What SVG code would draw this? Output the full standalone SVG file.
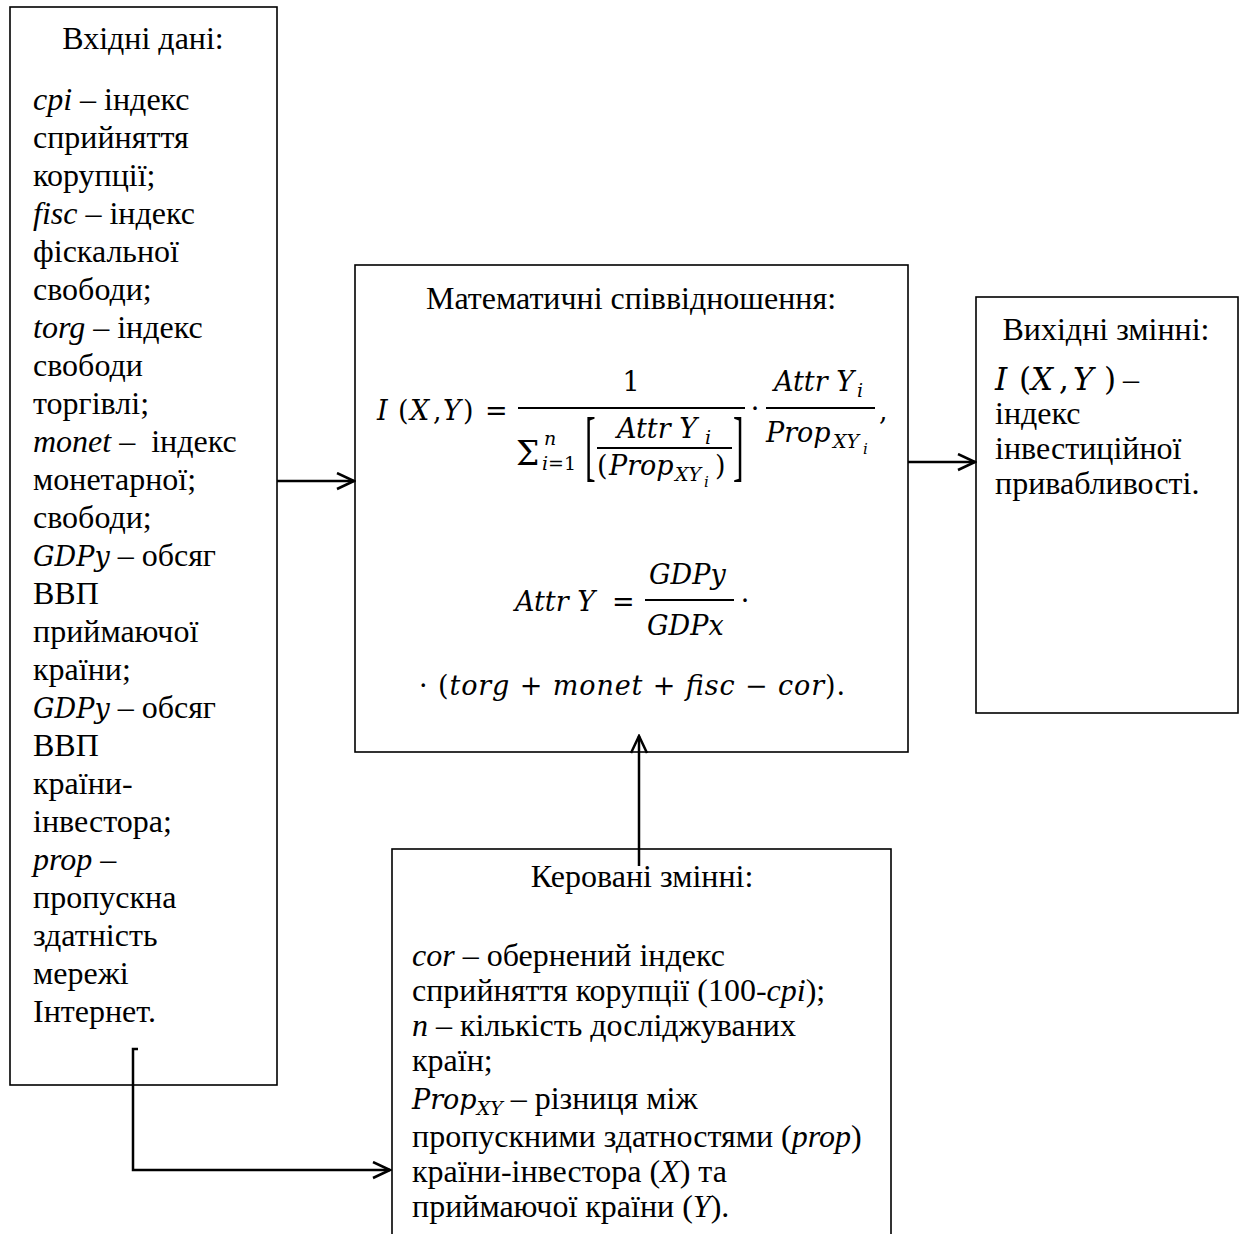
<svg xmlns="http://www.w3.org/2000/svg" width="1240" height="1234" viewBox="0 0 1240 1234">
  <style>
    .box { fill: #fff; stroke: #000; stroke-width: 1.6; }
    .link { fill: none; stroke: #000; stroke-width: 2.5; }
    .t { font-family: "Liberation Serif", "Times New Roman", serif; font-size: 32px; fill: #000; }
    .it { font-style: italic; }
    .m { font-family: "DejaVu Serif", serif; font-style: italic; font-size: 27px; fill: #000; }
    .mu { font-family: "DejaVu Serif", serif; font-style: normal; font-size: 27px; fill: #000; }
    .big { font-size: 31px; }
    .sig { font-size: 33px; }
    .sub { font-size: 19px; }
    .sub2 { font-size: 15px; }
    .bar { stroke: #000; stroke-width: 1.8; }
  </style>
  <defs>
    <marker id="arrow" viewBox="0 0 20 20" refX="18" refY="9" markerWidth="20" markerHeight="20" markerUnits="userSpaceOnUse" orient="auto">
      <path d="M1,1 L18,9 L1,17" fill="none" stroke="#000" stroke-width="2.5"/>
    </marker>
  </defs>

  <rect width="1240" height="1234" fill="#fff"/>

  <!-- input data -->
  <g id="inputs">
    <rect class="box" x="10" y="7" width="267" height="1078"/>
    <text class="t" x="143" y="49" text-anchor="middle">Вхідні дані:</text>
    <g class="t">
      <text x="33" y="110"><tspan class="it">cpi</tspan> – індекс</text>
      <text x="33" y="148">сприйняття</text>
      <text x="33" y="186">корупції;</text>
      <text x="33" y="224"><tspan class="it">fisc</tspan> – індекс</text>
      <text x="33" y="262">фіскальної</text>
      <text x="33" y="300">свободи;</text>
      <text x="33" y="338"><tspan class="it">torg</tspan> – індекс</text>
      <text x="33" y="376">свободи</text>
      <text x="33" y="414">торгівлі;</text>
      <text x="33" y="452" xml:space="preserve"><tspan class="it">monet</tspan> –  індекс</text>
      <text x="33" y="490">монетарної;</text>
      <text x="33" y="528">свободи;</text>
      <text x="33" y="566"><tspan class="m">GDPy</tspan> – обсяг</text>
      <text x="33" y="604">ВВП</text>
      <text x="33" y="642">приймаючої</text>
      <text x="33" y="680">країни;</text>
      <text x="33" y="718"><tspan class="m">GDPy</tspan> – обсяг</text>
      <text x="33" y="756">ВВП</text>
      <text x="33" y="794">країни-</text>
      <text x="33" y="832">інвестора;</text>
      <text x="33" y="870"><tspan class="it">prop</tspan> –</text>
      <text x="33" y="908">пропускна</text>
      <text x="33" y="946">здатність</text>
      <text x="33" y="984">мережі</text>
      <text x="33" y="1022">Інтернет.</text>
    </g>
  </g>

  <!-- mathematical relations -->
  <g id="relations">
    <rect class="box" x="355" y="265" width="553" height="487"/>
    <text class="t" x="631" y="309" text-anchor="middle">Математичні співвідношення:</text>

    <!-- I(X,Y) = 1 / sum[AttrY_i / (Prop_XYi)] * AttrY_i / Prop_XYi -->
    <text class="m" x="377" y="420">I</text>
    <text class="mu" x="398" y="420">(</text>
    <text class="m" x="410" y="420">X</text>
    <text class="mu" x="433" y="420">,</text>
    <text class="m" x="443" y="420">Y</text>
    <text class="mu" x="463" y="420">)</text>
    <text class="mu" x="485" y="420">=</text>

    <text class="mu" x="631" y="391" text-anchor="middle">1</text>
    <line class="bar" x1="518" y1="408" x2="745" y2="408"/>

    <text class="mu sig" x="516" y="465">Σ</text>
    <text class="m sub" x="544" y="445">n</text>
    <text class="m sub" x="542" y="470">i<tspan class="mu sub">=1</tspan></text>
    <text class="t" transform="translate(585,472) scale(1,2.45)">[</text>
    <text class="m" x="617" y="438">Attr Y</text>
    <text class="m sub" x="705" y="444">i</text>
    <line class="bar" x1="597" y1="448" x2="732" y2="448"/>
    <text class="mu" x="597" y="475">(</text>
    <text class="m" x="609" y="475">Prop</text>
    <text class="m sub" x="675" y="481">XY</text>
    <text class="m sub2" x="704" y="487">i</text>
    <text class="mu" x="715" y="475">)</text>
    <text class="t" transform="translate(733,472) scale(1,2.45)">]</text>

    <text class="mu" x="755" y="418" text-anchor="middle">·</text>

    <text class="m" x="774" y="391">Attr Y</text>
    <text class="m sub" x="857" y="397">i</text>
    <line class="bar" x1="766" y1="408" x2="875" y2="408"/>
    <text class="m" x="766" y="442">Prop</text>
    <text class="m sub" x="833" y="448">XY</text>
    <text class="m sub2" x="863" y="454">i</text>
    <text class="mu" x="879" y="420">,</text>

    <!-- Attr Y = GDPy / GDPx * -->
    <text class="m" x="515" y="611">Attr Y</text>
    <text class="mu" x="612" y="611">=</text>
    <text class="m" x="649" y="584">GDPy</text>
    <line class="bar" x1="645" y1="600" x2="734" y2="600"/>
    <text class="m" x="647" y="635">GDPx</text>
    <text class="mu" x="745" y="610" text-anchor="middle">·</text>

    <text class="mu" x="419" y="695" textLength="426" lengthAdjust="spacing" xml:space="preserve">· (<tspan class="m">torg</tspan> + <tspan class="m">monet</tspan> + <tspan class="m">fisc</tspan> − <tspan class="m">cor</tspan>).</text>
  </g>

  <!-- output variables -->
  <g id="outputs">
    <rect class="box" x="976" y="297" width="262" height="416"/>
    <text class="t" x="1106" y="340" text-anchor="middle">Вихідні змінні:</text>
    <text class="m big" x="995" y="390">I</text>
    <text class="mu big" x="1019" y="390">(</text>
    <text class="m big" x="1031" y="390">X</text>
    <text class="mu big" x="1059" y="390">,</text>
    <text class="m big" x="1073" y="390">Y</text>
    <text class="mu big" x="1104" y="390">)</text>
    <text class="t" x="1123" y="390">–</text>
    <text class="t" x="995" y="424">індекс</text>
    <text class="t" x="995" y="459">інвестиційної</text>
    <text class="t" x="995" y="494">привабливості.</text>
  </g>

  <!-- controlled variables -->
  <g id="controls">
    <rect class="box" x="392" y="849" width="499" height="420"/>
    <text class="t" x="642" y="887" text-anchor="middle">Керовані змінні:</text>
    <g class="t">
      <text x="412" y="966"><tspan class="it">cor</tspan> – обернений індекс</text>
      <text x="412" y="1001">сприйняття корупції (100-<tspan class="it">cpi</tspan>);</text>
      <text x="412" y="1036"><tspan class="it">n</tspan> – кількість досліджуваних</text>
      <text x="412" y="1071">країн;</text>
      <text x="412" y="1109"><tspan class="m">Prop</tspan><tspan class="m sub" dy="6">XY</tspan><tspan dy="-6"> – різниця між</tspan></text>
      <text x="412" y="1147">пропускними здатностями (<tspan class="it">prop</tspan>)</text>
      <text x="412" y="1182">країни-інвестора (<tspan class="it">X</tspan>) та</text>
      <text x="412" y="1217">приймаючої країни (<tspan class="it">Y</tspan>).</text>
    </g>
  </g>

  <!-- connectors, drawn over the boxes -->
  <g id="connectors">
    <path class="link" d="M277,481 H354" marker-end="url(#arrow)"/>
    <path class="link" d="M908,462 H975" marker-end="url(#arrow)"/>
    <path class="link" d="M639,866 V736" marker-end="url(#arrow)"/>
    <path class="link" d="M138,1049 H133 V1170 H390" marker-end="url(#arrow)"/>
  </g>
</svg>
